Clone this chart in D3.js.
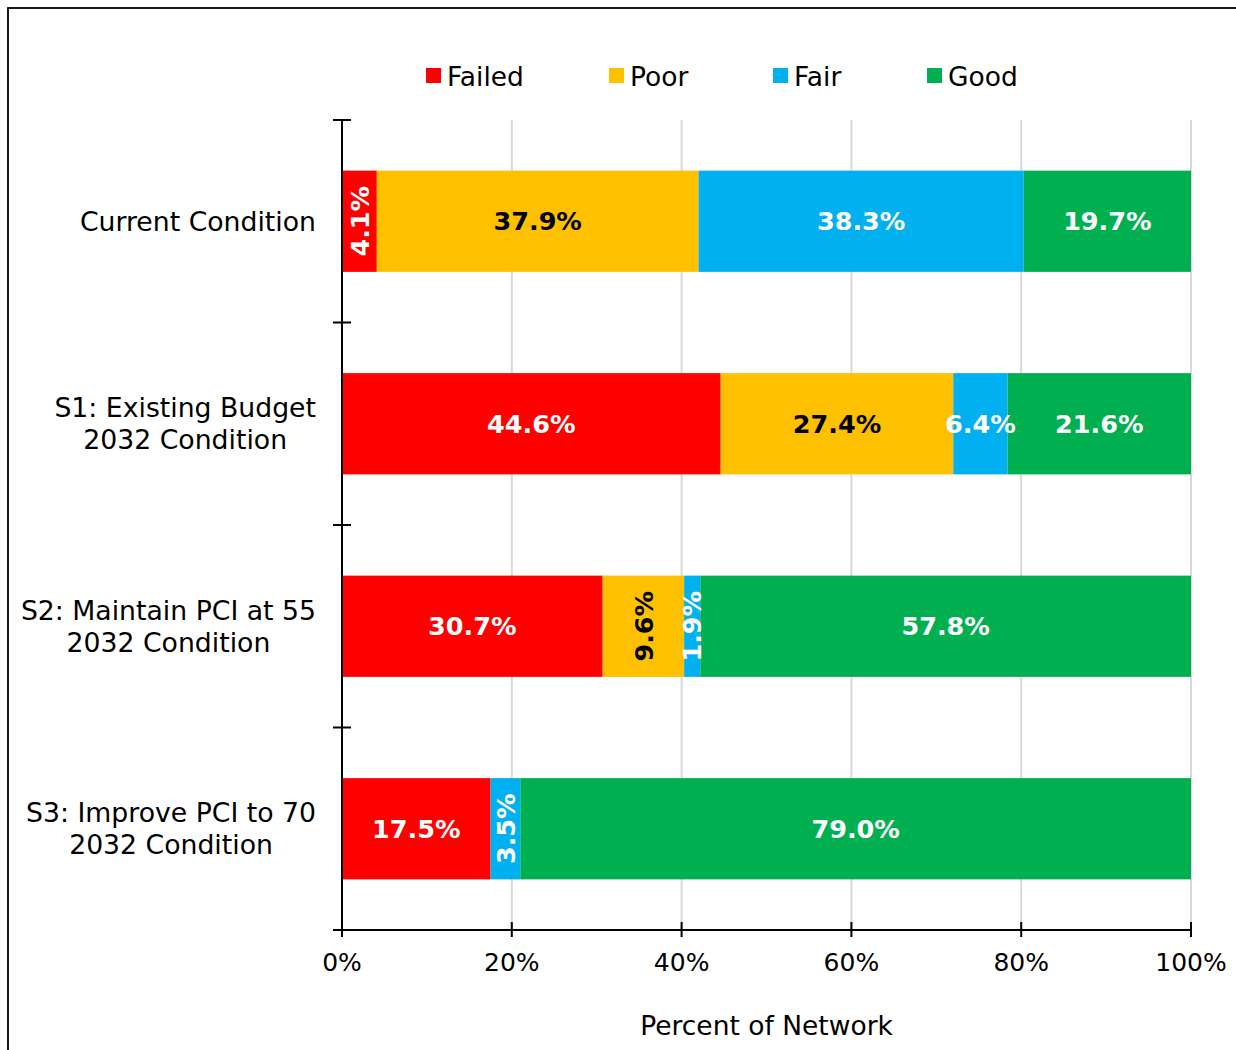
<!DOCTYPE html>
<html>
<head>
<meta charset="utf-8">
<script src="https://cdn.jsdelivr.net/npm/d3@7"></script>
<style>
  body { margin: 0; background: #fff; }
  text { font-family: "DejaVu Sans", Verdana, sans-serif; }
</style>
</head>
<body>
<div id="chart"></div>
<script>
// data
var categories = [["Current Condition"], ["S1: Existing Budget", "2032 Condition"],
    ["S2: Maintain PCI at 55", "2032 Condition"], ["S3: Improve PCI to 70", "2032 Condition"]];
var seriesNames = ["Failed", "Poor", "Fair", "Good"];
var failed = [4.1, 44.6, 30.7, 17.5];
var poor = [37.9, 27.4, 9.6, 0];
var fair = [38.3, 6.4, 1.9, 3.5];
var good = [19.7, 21.6, 57.8, 79.0];
var xTicks = [0, 20, 40, 60, 80, 100];
// which labels are drawn vertically (series index, category index)
var verticalLabels = [[0, 0], [1, 2], [2, 2], [2, 3]];

var colors = ["#FF0000", "#FFC000", "#00B0F0", "#00B050"];
var labelColors = ["#fff", "#000", "#fff", "#fff"];

var W = 1236, H = 1050;
var margin = {t: 120, r: 45, b: 120, l: 342};
var width = W - margin.l - margin.r,
    height = H - margin.t - margin.b;

var svg = d3.select('#chart').append('svg')
    .attr('width', W)
    .attr('height', H);

// outer frame
svg.append('rect')
    .attr('x', 8).attr('y', 8)
    .attr('width', W + 20).attr('height', H + 20)
    .attr('fill', 'none').attr('stroke', '#000').attr('stroke-width', 1.8);

var values = [failed, poor, fair, good];
var rows = categories.map(function(c, i) {
    var row = {idx: i};
    seriesNames.forEach(function(s, j) { row[s] = values[j][i]; });
    return row;
});
var stacked = d3.stack().keys(seriesNames)(rows);

var x = d3.scaleLinear().domain([0, 100]).range([0, width]);
var y = d3.scaleBand().domain(d3.range(categories.length)).range([0, height])
    .paddingInner(0.5).paddingOuter(0.25);

var g = svg.append('g').attr('transform', 'translate(' + margin.l + ',' + margin.t + ')');

// grid
g.append('g').attr('class', 'grid')
    .selectAll('line').data(xTicks.slice(1)).enter().append('line')
    .attr('x1', function(d) { return x(d); }).attr('x2', function(d) { return x(d); })
    .attr('y1', 0).attr('y2', height)
    .attr('stroke', '#d9d9d9').attr('stroke-width', 2);

// bars
var layers = g.append('g').selectAll('g').data(stacked).enter().append('g')
    .attr('fill', function(d, i) { return colors[i]; });

layers.selectAll('rect').data(function(d) { return d; }).enter().append('rect')
    .attr('x', function(d) { return x(d[0]); })
    .attr('y', function(d) { return y(d.data.idx); })
    .attr('width', function(d) { return x(d[1]) - x(d[0]); })
    .attr('height', y.bandwidth());

// bar labels
function isVertical(si, ci) {
    return verticalLabels.some(function(v) { return v[0] === si && v[1] === ci; });
}
stacked.forEach(function(layer, si) {
    layer.forEach(function(d) {
        var v = d[1] - d[0];
        if (v <= 0) return;
        var cx = x((d[0] + d[1]) / 2), cy = y(d.data.idx) + y.bandwidth() / 2;
        var t = g.append('text')
            .attr('text-anchor', 'middle')
            .attr('dy', '0.36em')
            .attr('font-size', 25.5)
            .attr('font-weight', 'bold')
            .attr('fill', labelColors[si])
            .text(v.toFixed(1) + '%');
        if (isVertical(si, d.data.idx)) {
            t.attr('transform', 'translate(' + cx + ',' + cy + ') rotate(-90)');
        } else {
            t.attr('x', cx).attr('y', cy);
        }
    });
});

// y axis
var step = y.step();
var bounds = d3.range(categories.length + 1).map(function(i) { return y(0) - step * 0.25 + i * step; });
g.append('line').attr('x1', 0).attr('x2', 0).attr('y1', 0).attr('y2', height)
    .attr('stroke', '#000').attr('stroke-width', 2);
g.selectAll('.ytick').data(bounds).enter().append('line')
    .attr('x1', -9).attr('x2', 9)
    .attr('y1', function(d) { return d; }).attr('y2', function(d) { return d; })
    .attr('stroke', '#000').attr('stroke-width', 2);

// category labels, right-aligned block with centred lines
categories.forEach(function(lines, i) {
    var cy = y(i) + y.bandwidth() / 2;
    var t = g.append('text')
        .attr('text-anchor', 'middle')
        .attr('font-size', 26.7)
        .attr('fill', '#000');
    lines.forEach(function(line, k) {
        t.append('tspan')
            .attr('x', 0)
            .attr('y', cy + (k - (lines.length - 1) / 2) * 32)
            .attr('dy', '0.36em')
            .text(line);
    });
    var bb = t.node().getBBox();
    t.selectAll('tspan').attr('x', -26 - bb.width / 2);
});

// x axis
g.append('line').attr('x1', -9).attr('x2', width).attr('y1', height).attr('y2', height)
    .attr('stroke', '#000').attr('stroke-width', 2);
var xt = g.selectAll('.xtick').data(xTicks).enter().append('g')
    .attr('transform', function(d) { return 'translate(' + x(d) + ',' + height + ')'; });
xt.append('line').attr('y1', -8).attr('y2', 7).attr('stroke', '#000').attr('stroke-width', 2);
xt.append('text').attr('y', 41).attr('text-anchor', 'middle').attr('font-size', 25)
    .text(function(d) { return d + '%'; });

// axis title
g.append('text').attr('x', width / 2).attr('y', height + 105)
    .attr('text-anchor', 'middle').attr('font-size', 26.5)
    .text('Percent of Network');

// legend
var legendX = [426, 609, 773, 927];
var legend = svg.append('g').selectAll('g').data(seriesNames).enter().append('g')
    .attr('transform', function(d, i) { return 'translate(' + legendX[i] + ',68)'; });
legend.append('rect').attr('width', 15).attr('height', 15)
    .attr('fill', function(d, i) { return colors[i]; });
legend.append('text').attr('x', 21).attr('y', 18).attr('font-size', 26.5)
    .text(function(d) { return d; });
</script>
</body>
</html>
